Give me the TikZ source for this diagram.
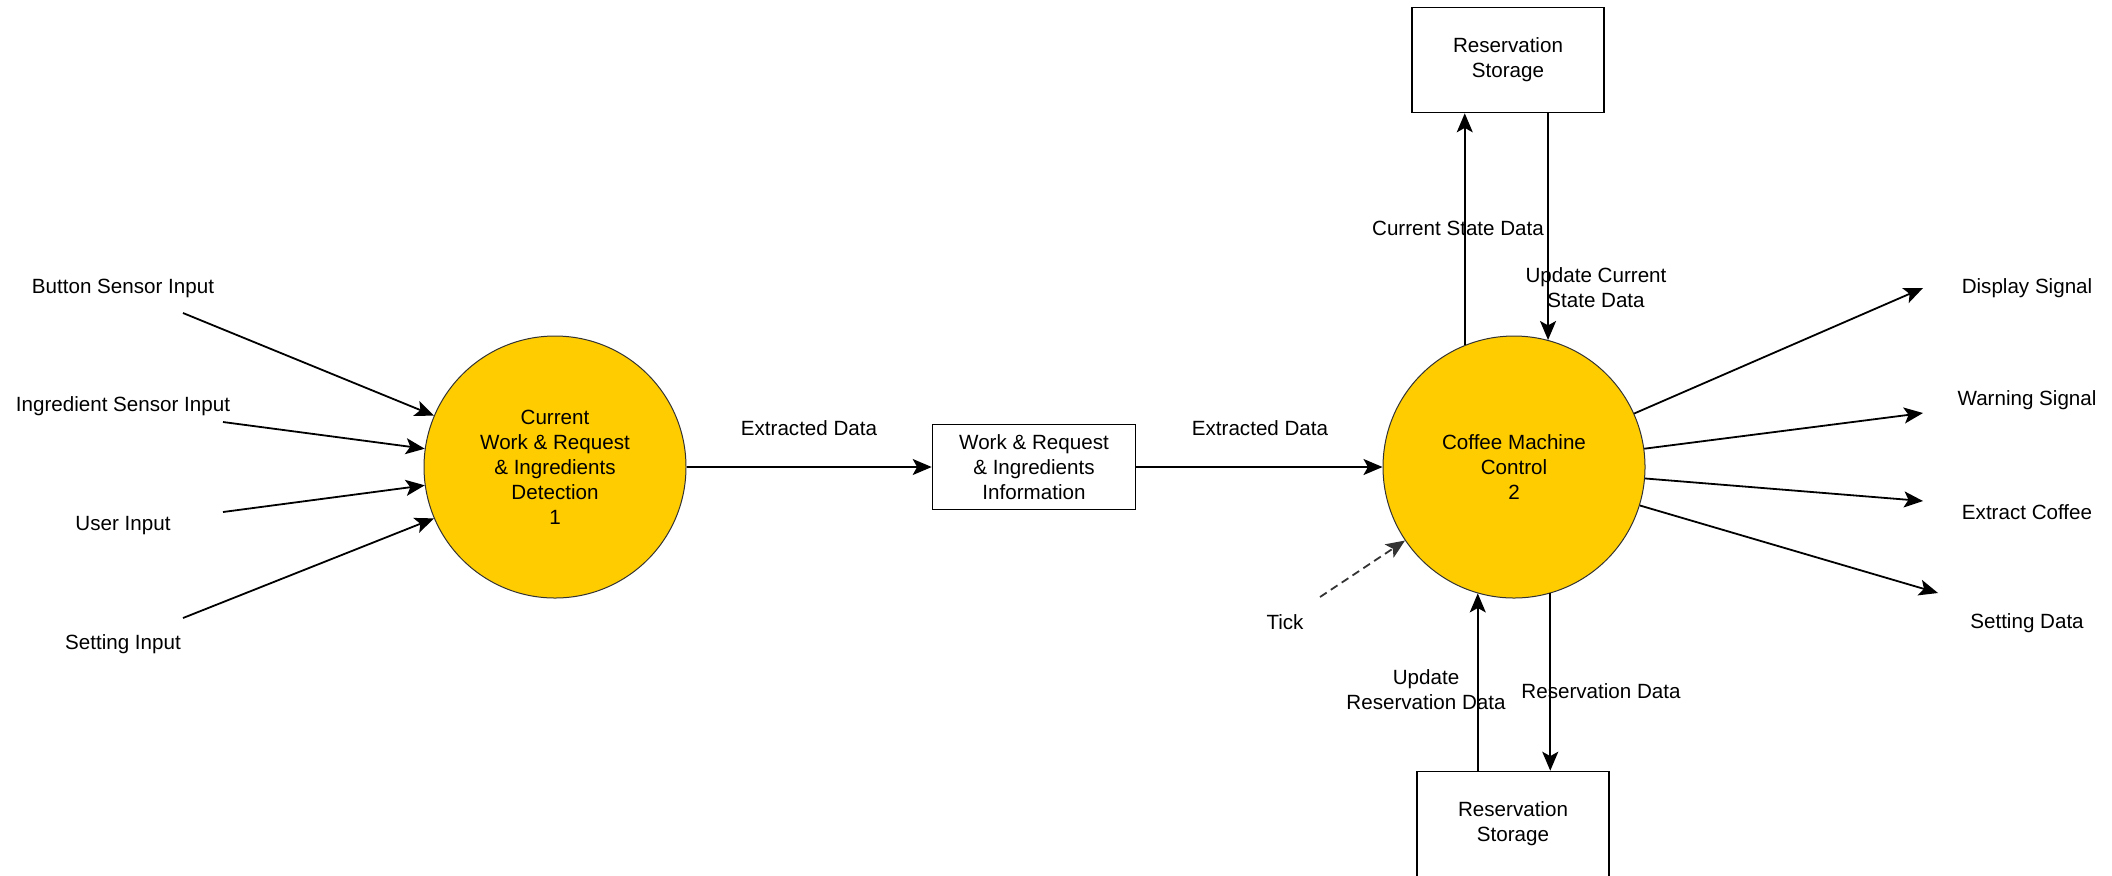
\documentclass[tikz,border=0pt]{standalone}
\usepackage{fontspec}
\setmainfont{Liberation Sans}
\usetikzlibrary{arrows.meta}
\definecolor{procfill}{HTML}{FFCC00}

\begin{document}
\begin{tikzpicture}[x=0.5pt, y=-0.5pt,
		every node/.style={font=\fontsize{10.3}{12.5}\selectfont, align=center, inner sep=1pt},
		proc/.style={circle, draw=black!80, line width=0.5pt, fill=procfill, minimum size=131pt, inner sep=0pt},
		store/.style={draw, line width=0.8pt, minimum width=96pt, minimum height=52.5pt},
		flow/.style={-{Stealth[length=9.5pt, width=8pt, inset=2.2pt]}, line width=0.9pt}]
		\useasboundingbox (0,0) rectangle (2112,875);
		% processes and stores
		\node[proc] at (555,467) (det) {Current\\Work \& Request\\\& Ingredients\\Detection\\1};
		\node[proc] at (1514,467) (ctl) {Coffee Machine\\Control\\2};
		\node[store, minimum width=101.5pt, minimum height=42.5pt] at (1034,467) (info) {Work \& Request\\\& Ingredients\\Information};
		\node[store] at (1508,60) (topstore) {Reservation\\Storage};
		\node[store] at (1513,824) (botstore) {Reservation\\Storage};
		% inputs
		\node at (123,288) (btn) {Button Sensor Input};
		\node at (123,406) (ingr) {Ingredient Sensor Input};
		\node at (123,526) (user) {User Input};
		\node at (123,644) (sett) {Setting Input};
		\coordinate (btn-t) at (183,313);
		\coordinate (ingr-t) at (223,422);
		\coordinate (user-t) at (223,512);
		\coordinate (sett-t) at (183,618);
		\draw[flow] (btn-t) -- (det.157);
		\draw[flow] (ingr-t) -- (det.172);
		\draw[flow] (user-t) -- (det.188);
		\draw[flow] (sett-t) -- (det.203);
		% extracted data
		\draw[flow] (det) -- (info);
		\draw[flow] (info) -- (ctl);
		\node at (809,428) (ext1) {Extracted Data};
		\node at (1260,428) (ext2) {Extracted Data};
		% storage flows
		\draw[flow] (ctl.112) -- (ctl.112 |- topstore.south);
		\draw[flow] (ctl.75 |- topstore.south) -- (ctl.75);
		\draw[flow] (botstore.north -| ctl.254) -- (ctl.254);
		\draw[flow] (ctl.286) -- (ctl.286 |- botstore.north);
		\node at (1458,228) (cur) {Current State Data};
		\node at (1596,288) (updcur) {Update Current\\State Data};
		\node at (1426,690) (updres) {Update\\Reservation Data};
		\node at (1601,691) (res) {Reservation Data};
		% tick
		\node at (1285,622) (tick) {Tick};
		\coordinate (tick-t) at (1320,597);
		\draw[flow, dashed, dash pattern=on 4pt off 2.5pt, draw=black!80] (tick-t) -- (ctl.214);
		% outputs
		\node at (2027,288) (disp) {Display Signal};
		\node at (2027,400) (warn) {Warning Signal};
		\node at (2027,512) (coffee) {Extract Coffee};
		\node at (2027,623) (sdata) {Setting Data};
		\coordinate (disp-h) at (1923,288);
		\coordinate (warn-h) at (1923,413);
		\coordinate (coffee-h) at (1923,501);
		\coordinate (sdata-h) at (1938,593);
		\draw[flow] (ctl.24) -- (disp-h);
		\draw[flow] (ctl.8) -- (warn-h);
		\draw[flow] (ctl.-5) -- (coffee-h);
		\draw[flow] (ctl.-17) -- (sdata-h);
\end{tikzpicture}
\end{document}
